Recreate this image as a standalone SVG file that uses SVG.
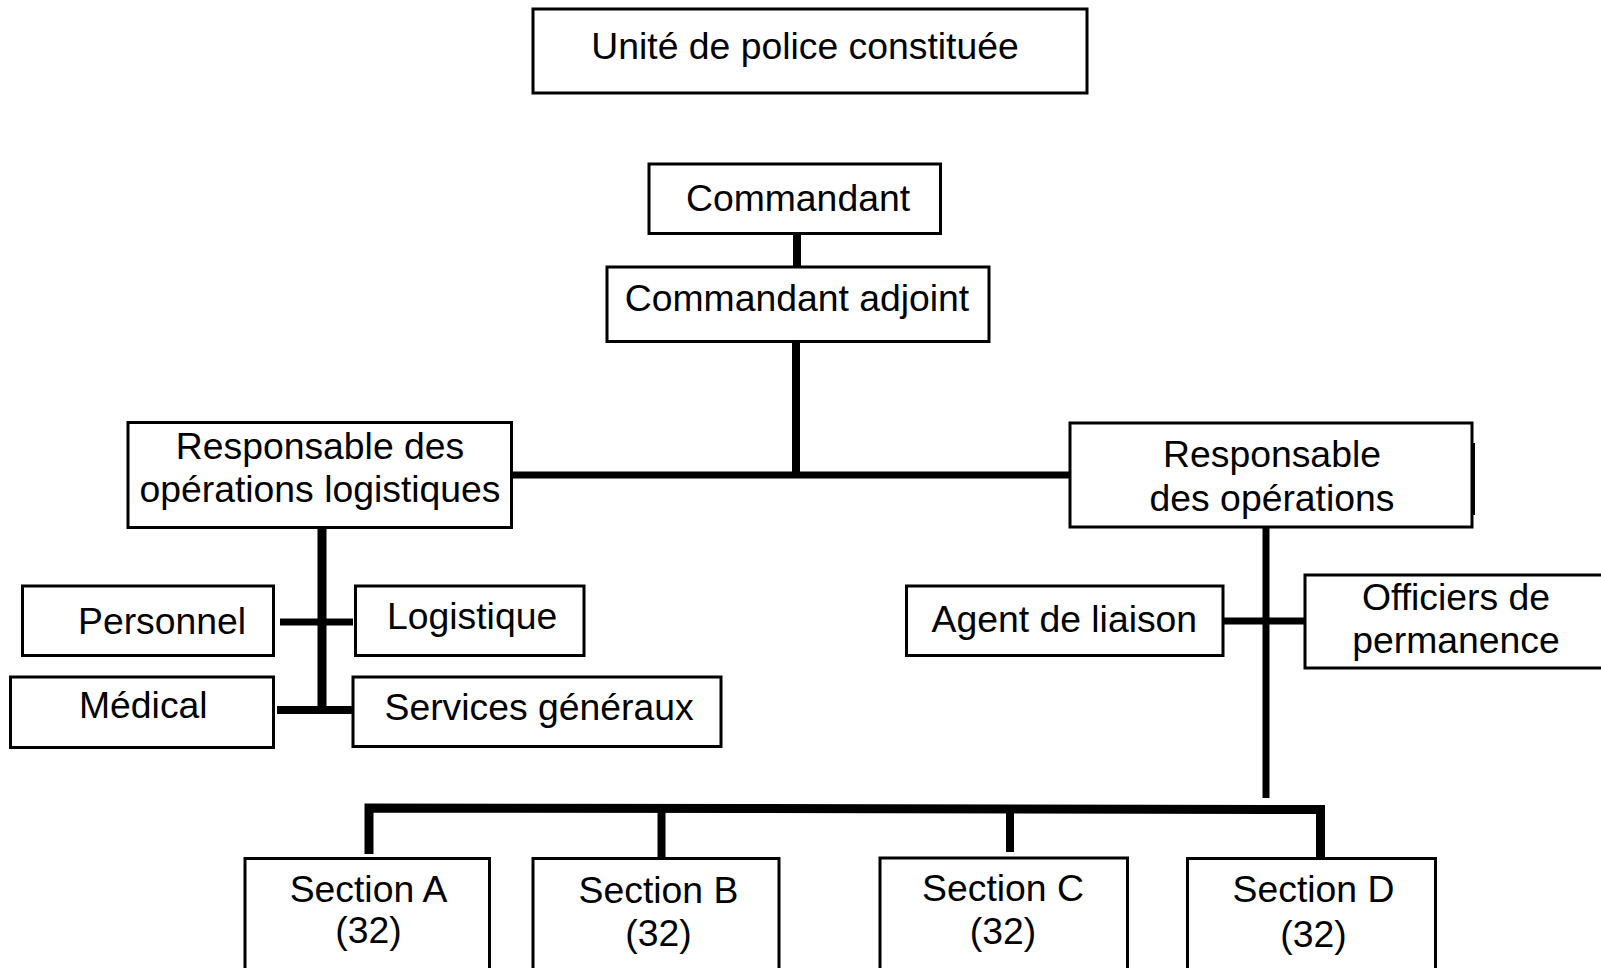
<svg xmlns="http://www.w3.org/2000/svg" width="1601" height="968" viewBox="0 0 1601 968">
<style>
.box{fill:#fff;stroke:#000;stroke-width:3}
.t{font-family:"Liberation Sans",Arial,sans-serif;font-size:37.33px;fill:#000}
.c{text-anchor:middle}
.ln{fill:none;stroke:#000;stroke-linecap:butt;stroke-linejoin:miter}
</style>
<rect width="1601" height="968" fill="#fff"/>
<g id="connectors">
<line class="ln" x1="797" y1="233" x2="797" y2="267" stroke-width="8"/>
<line class="ln" x1="796" y1="341" x2="796" y2="475" stroke-width="8"/>
<line class="ln" x1="511" y1="475" x2="1070" y2="475" stroke-width="7"/>
<line class="ln" x1="322" y1="528" x2="322" y2="714" stroke-width="9"/>
<line class="ln" x1="280" y1="622" x2="353" y2="622" stroke-width="7"/>
<line class="ln" x1="277" y1="710" x2="353" y2="710" stroke-width="8"/>
<line class="ln" x1="1266" y1="527" x2="1266" y2="798" stroke-width="7"/>
<line class="ln" x1="1223" y1="621" x2="1305" y2="621" stroke-width="7"/>
<path class="ln" d="M369 854 V808 L1320.5 809.5 V858" stroke-width="9"/>
<line class="ln" x1="661.5" y1="808" x2="661.5" y2="858" stroke-width="8"/>
<line class="ln" x1="1010" y1="809" x2="1010" y2="852" stroke-width="8"/>
</g>
<g id="n-upc"><rect class="box" x="533" y="9" width="554" height="84"/><text class="t c" x="805" y="59">Unité de police constituée</text></g>
<g id="n-cmd"><rect class="box" x="649" y="164" width="291.5" height="69.5"/><text class="t c" x="798" y="211">Commandant</text></g>
<g id="n-adj"><rect class="box" x="607" y="267" width="382" height="74.5"/><text class="t c" x="797" y="311">Commandant adjoint</text></g>
<g id="n-log"><rect class="box" x="128" y="422.5" width="383.5" height="105"/><text class="t c" x="320" y="459">Responsable des</text><text class="t c" x="320" y="502">opérations logistiques</text></g>
<g id="n-ops"><rect class="box" x="1070" y="423" width="402" height="104"/><rect x="1472" y="443" width="3" height="72" fill="#000"/><text class="t c" x="1272" y="467">Responsable</text><text class="t c" x="1272" y="511">des opérations</text></g>
<g id="n-pers"><rect class="box" x="22.5" y="586" width="251" height="69.5"/><text class="t" x="78" y="634">Personnel</text></g>
<g id="n-logi"><rect class="box" x="355.5" y="586" width="228.5" height="69.5"/><text class="t" x="387" y="629">Logistique</text></g>
<g id="n-med"><rect class="box" x="10.5" y="677" width="263" height="70.5"/><text class="t" x="79" y="718">Médical</text></g>
<g id="n-sg"><rect class="box" x="353" y="677" width="368" height="69.5"/><text class="t" x="384.5" y="720">Services généraux</text></g>
<g id="n-agent"><rect class="box" x="906.5" y="586" width="316.5" height="69.5"/><text class="t" x="931.5" y="632">Agent de liaison</text></g>
<g id="n-off"><rect class="box" x="1305" y="575" width="300" height="93"/><text class="t c" x="1456" y="610">Officiers de</text><text class="t c" x="1456" y="653">permanence</text></g>
<g id="n-sa"><rect class="box" x="245" y="858.5" width="244.5" height="120"/><text class="t c" x="368.5" y="902">Section A</text><text class="t c" x="368.5" y="943">(32)</text></g>
<g id="n-sb"><rect class="box" x="533" y="858.5" width="246" height="120"/><text class="t c" x="658.5" y="903">Section B</text><text class="t c" x="658.5" y="946">(32)</text></g>
<g id="n-sc"><rect class="box" x="880" y="858" width="247.5" height="120"/><text class="t c" x="1003" y="901">Section C</text><text class="t c" x="1003" y="944">(32)</text></g>
<g id="n-sd"><rect class="box" x="1187.5" y="858.5" width="248" height="120"/><text class="t c" x="1313.5" y="902">Section D</text><text class="t c" x="1313.5" y="947">(32)</text></g>
</svg>
